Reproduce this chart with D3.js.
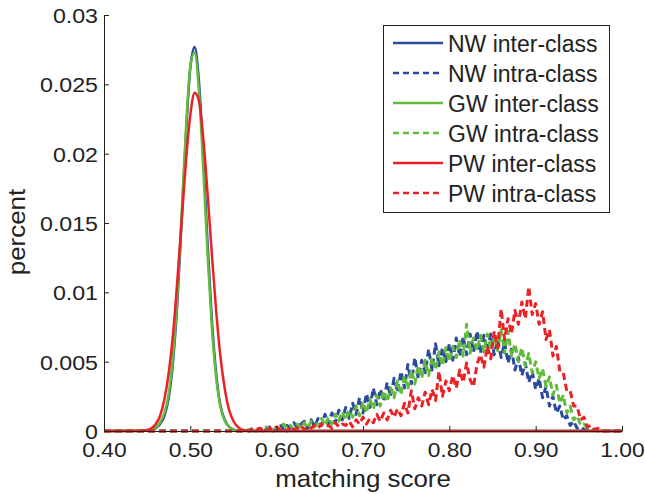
<!DOCTYPE html>
<html>
<head>
<meta charset="utf-8">
<script src="https://cdn.jsdelivr.net/npm/d3@7"></script>
<style>
  body { margin: 0; background: #fff; }
  svg { display: block; font-family: "Liberation Sans", Arial, sans-serif; }
</style>
</head>
<body>
<svg id="chart" width="645" height="494"></svg>
<script>
// axis ticks
const xTicks = [0.4, 0.5, 0.6, 0.7, 0.8, 0.9, 1.0];
const xTickLabels = ["0.40", "0.50", "0.60", "0.70", "0.80", "0.90", "1.00"];
const yTicks = [0, 0.005, 0.01, 0.015, 0.02, 0.025, 0.03];
const yTickLabels = ["0", "0.005", "0.01", "0.015", "0.02", "0.025", "0.03"];

// inter-class (smooth peak near 0.5)
const interScores = [0.40, 0.44, 0.445, 0.45, 0.455, 0.46, 0.465, 0.47, 0.475, 0.48, 0.485, 0.49, 0.495, 0.50,
  0.505, 0.51, 0.515, 0.52, 0.525, 0.53, 0.535, 0.54, 0.545, 0.55, 0.555, 0.56, 0.565, 0.57, 1.00];
const nwInter = [0, 0, 0.00001, 0.00003, 0.00008, 0.0002, 0.0005, 0.0011, 0.0024, 0.0050, 0.0093, 0.0152, 0.0214, 0.0262,
  0.0277, 0.0252, 0.0198, 0.0135, 0.0080, 0.0041, 0.0018, 0.0008, 0.0003, 0.0001, 0.00003, 0.00001, 0, 0, 0];
const gwInter = [0, 0, 0.00001, 0.00003, 0.0001, 0.00025, 0.0006, 0.0013, 0.0027, 0.0054, 0.0098, 0.0158, 0.0219, 0.0263,
  0.0273, 0.0245, 0.0189, 0.0127, 0.0074, 0.0038, 0.0017, 0.0007, 0.0003, 0.0001, 0.00003, 0.00001, 0, 0, 0];
const pwInter = [0, 0.00001, 0.00003, 0.00008, 0.0002, 0.0005, 0.0011, 0.0023, 0.0042, 0.0070, 0.0109, 0.0152, 0.0195, 0.0228,
  0.0244, 0.0238, 0.0211, 0.0171, 0.0127, 0.0086, 0.0053, 0.0030, 0.0015, 0.0007, 0.0003, 0.0001, 0.00004, 0, 0];

// intra-class (noisy, bins of 0.004 from 0.56 to 0.98)
const intraStart = 0.56, intraStep = 0.004;
const nwIntra = [
  0.0000, 0.0001, 0.0000, 0.0002, 0.0000, 0.0001, 0.0003, 0.0001, 0.0003, 0.0000,
  0.0002, 0.0005, 0.0001, 0.0004, 0.0002, 0.0006, 0.0002, 0.0005, 0.0007, 0.0002,
  0.0008, 0.0003, 0.0009, 0.0004, 0.0012, 0.0005, 0.0013, 0.0006, 0.0015, 0.0008,
  0.0017, 0.0009, 0.0020, 0.0012, 0.0024, 0.0013, 0.0027, 0.0017, 0.0031, 0.0019,
  0.0030, 0.0022, 0.0035, 0.0025, 0.0038, 0.0028, 0.0043, 0.0031, 0.0048, 0.0034,
  0.0053, 0.0038, 0.0051, 0.0042, 0.0059, 0.0044, 0.0063, 0.0047, 0.0060, 0.0050,
  0.0063, 0.0051, 0.0067, 0.0054, 0.0068, 0.0055, 0.0070, 0.0057, 0.0072, 0.0056,
  0.0069, 0.0058, 0.0070, 0.0055, 0.0066, 0.0053, 0.0064, 0.0049, 0.0059, 0.0044,
  0.0053, 0.0040, 0.0049, 0.0035, 0.0043, 0.0030, 0.0038, 0.0024, 0.0032, 0.0018,
  0.0025, 0.0013, 0.0018, 0.0008, 0.0011, 0.0004, 0.0007, 0.0002, 0.0003, 0.0001,
  0.0001, 0.0000, 0.0001, 0.0000, 0.0000, 0.0000];
const gwIntra = [
  0.0000, 0.0000, 0.0001, 0.0000, 0.0002, 0.0001, 0.0000, 0.0003, 0.0001, 0.0003,
  0.0002, 0.0001, 0.0005, 0.0002, 0.0004, 0.0001, 0.0005, 0.0002, 0.0006, 0.0002,
  0.0007, 0.0003, 0.0006, 0.0009, 0.0004, 0.0010, 0.0005, 0.0012, 0.0007, 0.0014,
  0.0008, 0.0015, 0.0010, 0.0018, 0.0011, 0.0021, 0.0013, 0.0023, 0.0016, 0.0026,
  0.0018, 0.0029, 0.0021, 0.0031, 0.0024, 0.0036, 0.0026, 0.0040, 0.0030, 0.0044,
  0.0034, 0.0047, 0.0038, 0.0051, 0.0040, 0.0053, 0.0044, 0.0057, 0.0047, 0.0060,
  0.0050, 0.0061, 0.0053, 0.0066, 0.0054, 0.0077, 0.0056, 0.0067, 0.0058, 0.0069,
  0.0057, 0.0070, 0.0059, 0.0068, 0.0058, 0.0073, 0.0056, 0.0072, 0.0054, 0.0063,
  0.0050, 0.0060, 0.0047, 0.0056, 0.0042, 0.0050, 0.0038, 0.0045, 0.0032, 0.0039,
  0.0026, 0.0033, 0.0020, 0.0026, 0.0013, 0.0018, 0.0008, 0.0011, 0.0004, 0.0005,
  0.0002, 0.0002, 0.0001, 0.0000, 0.0001, 0.0000];
const pwIntra = [
  0.0000, 0.0001, 0.0000, 0.0001, 0.0000, 0.0002, 0.0001, 0.0000, 0.0002, 0.0001,
  0.0003, 0.0001, 0.0002, 0.0000, 0.0003, 0.0001, 0.0002, 0.0004, 0.0001, 0.0003,
  0.0002, 0.0004, 0.0002, 0.0005, 0.0003, 0.0004, 0.0002, 0.0006, 0.0003, 0.0005,
  0.0004, 0.0007, 0.0003, 0.0008, 0.0005, 0.0010, 0.0005, 0.0009, 0.0006, 0.0012,
  0.0007, 0.0013, 0.0008, 0.0015, 0.0010, 0.0016, 0.0011, 0.0020, 0.0013, 0.0029,
  0.0016, 0.0024, 0.0018, 0.0028, 0.0019, 0.0030, 0.0022, 0.0043, 0.0025, 0.0036,
  0.0029, 0.0040, 0.0031, 0.0044, 0.0035, 0.0049, 0.0037, 0.0032, 0.0048, 0.0055,
  0.0046, 0.0061, 0.0052, 0.0072, 0.0060, 0.0088, 0.0066, 0.0081, 0.0070, 0.0087,
  0.0077, 0.0093, 0.0081, 0.0104, 0.0084, 0.0092, 0.0077, 0.0086, 0.0066, 0.0073,
  0.0054, 0.0061, 0.0043, 0.0042, 0.0029, 0.0029, 0.0018, 0.0018, 0.0008, 0.0010,
  0.0003, 0.0004, 0.0001, 0.0002, 0.0000, 0.0000];

const seriesNames = ["NW inter-class", "NW intra-class", "GW inter-class", "GW intra-class", "PW inter-class", "PW intra-class"];
const colors = { NW: "#2a4a9e", GW: "#62bb3a", PW: "#ec2027" };

const svg = d3.select("#chart");
const x = d3.scaleLinear().domain([0.4, 1.0]).range([104, 622]);
const y = d3.scaleLinear().domain([0, 0.03]).range([431, 15]);

// pair up the intra arrays with their score bins, zero lead-in from 0.40
function intraPoints(vals) {
  let pts = [[0.40, 0]];
  vals.forEach((v, i) => pts.push([intraStart + i * intraStep, v]));
  pts.push([1.00, 0]);
  return pts;
}
function interPoints(vals) {
  return interScores.map((s, i) => [s, vals[i]]);
}

const smooth = d3.line().x(d => x(d[0])).y(d => y(d[1])).curve(d3.curveMonotoneX);
const jagged = d3.line().x(d => x(d[0])).y(d => y(d[1]));

const series = [
  { pts: interPoints(nwInter), color: colors.NW, dash: null, gen: smooth, w: 2.5 },
  { pts: intraPoints(nwIntra), color: colors.NW, dash: "7,4", gen: jagged, w: 3 },
  { pts: interPoints(gwInter), color: colors.GW, dash: null, gen: smooth, w: 2.5 },
  { pts: intraPoints(gwIntra), color: colors.GW, dash: "7,4", gen: jagged, w: 3 },
  { pts: interPoints(pwInter), color: colors.PW, dash: null, gen: smooth, w: 2.5 },
  { pts: intraPoints(pwIntra), color: colors.PW, dash: "7,4", gen: jagged, w: 3 }
];

series.forEach(s => {
  svg.append("path")
     .attr("d", s.gen(s.pts))
     .attr("fill", "none")
     .attr("stroke", s.color)
     .attr("stroke-width", s.w)
     .attr("stroke-linejoin", "round")
     .attr("stroke-dasharray", s.dash);
});

// axes, ticks point inward like matlab
const xAxis = svg.append("g")
   .attr("transform", "translate(0,431)")
   .call(d3.axisBottom(x).tickValues(xTicks).tickSize(-5).tickSizeOuter(0)
         .tickFormat((d, i) => xTickLabels[i]).tickPadding(0));
const yAxis = svg.append("g")
   .attr("transform", "translate(104,0)")
   .call(d3.axisLeft(y).tickValues(yTicks).tickSize(-5).tickSizeOuter(0)
         .tickFormat((d, i) => yTickLabels[i]).tickPadding(0));

[xAxis, yAxis].forEach(g => {
  g.select(".domain").attr("stroke", "#222").attr("stroke-width", 1);
  g.selectAll(".tick line").attr("stroke", "#222");
  g.selectAll("text").attr("font-size", 20).attr("fill", "#222")
   .attr("font-family", "Liberation Sans, Arial, sans-serif");
});

xAxis.selectAll(".tick text")
   .attr("y", null).attr("dy", null)
   .attr("transform", "translate(0,26) scale(1.14,1)")
   .attr("text-anchor", "middle");
yAxis.selectAll(".tick text")
   .attr("x", null).attr("dy", null)
   .attr("transform", "translate(-6,7.5) scale(1.16,1)")
   .attr("text-anchor", "end");

// axis titles
svg.append("text")
   .attr("transform", "translate(363,487) scale(1.08,1)")
   .attr("text-anchor", "middle")
   .attr("font-size", 24).attr("fill", "#222")
   .text("matching score");
svg.append("text")
   .attr("transform", "translate(25,232) rotate(-90) scale(1.08,1)")
   .attr("text-anchor", "middle")
   .attr("font-size", 24).attr("fill", "#222")
   .text("percent");

// legend
const legend = svg.append("g");
legend.append("rect")
   .attr("x", 383.5).attr("y", 25.5).attr("width", 226).attr("height", 187)
   .attr("fill", "#fff").attr("stroke", "#222").attr("stroke-width", 1);
seriesNames.forEach((name, i) => {
  const rowY = 43 + i * 30;
  legend.append("line")
     .attr("x1", 393).attr("x2", 443).attr("y1", rowY).attr("y2", rowY)
     .attr("stroke", series[i].color).attr("stroke-width", 2.5)
     .attr("stroke-dasharray", series[i].dash ? "6,4" : null);
  legend.append("text")
     .attr("x", 448).attr("y", rowY + 8.5)
     .attr("font-size", 23).attr("fill", "#222")
     .text(name);
});
</script>
</body>
</html>
